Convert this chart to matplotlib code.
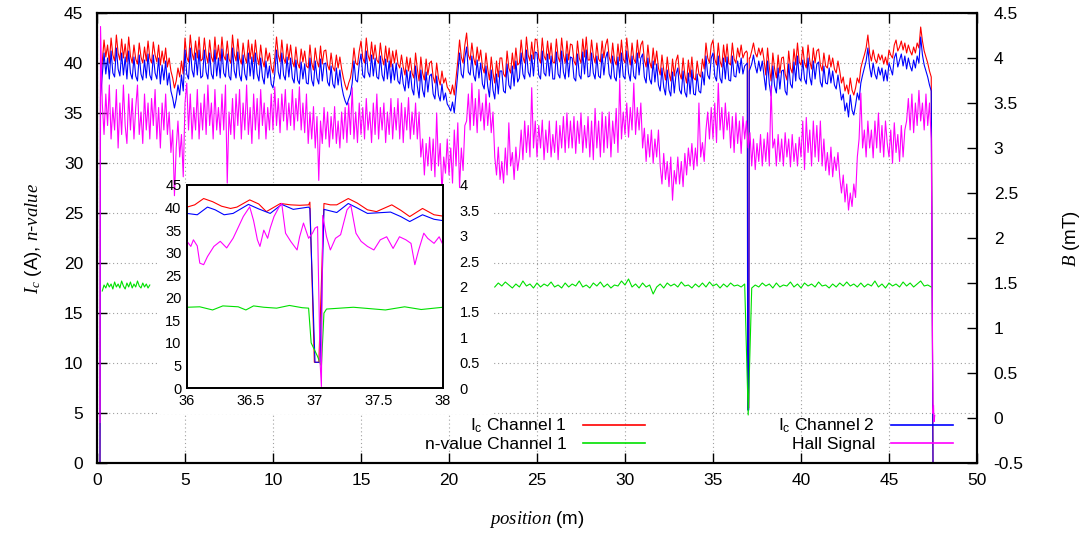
import numpy as np
import matplotlib
matplotlib.use('Agg')
import matplotlib.pyplot as plt
from matplotlib.patches import Rectangle
from matplotlib.lines import Line2D

plt.rcParams['font.family'] = ['Liberation Sans', 'DejaVu Sans']
plt.rcParams['mathtext.fontset'] = 'custom'
plt.rcParams['mathtext.rm'] = 'Liberation Sans'
plt.rcParams['mathtext.it'] = 'Liberation Serif:italic'
plt.rcParams['mathtext.bf'] = 'Liberation Sans:bold'

# ---------------- main data (position grid 0.2 m ... 47.4 m, step 0.1 m) -------------
ic_ch1 = [
    38.0, 40.2, 42.3, 40.6, 41.8, 40.0, 42.5, 40.8,
    40.2, 42.8, 41.0, 40.3, 42.4, 40.5, 41.9, 40.1, 42.6, 40.7,
    40.0, 41.8, 40.4, 39.9, 42.0, 40.6, 40.0, 41.6, 40.2, 42.2,
    40.5, 40.0, 42.1, 40.8, 40.1, 41.8, 39.8, 41.2, 40.0, 41.5,
    39.6, 40.5, 39.2, 38.5, 37.5, 38.2, 39.5, 38.6, 40.2, 38.9,
    42.5, 40.6, 40.1, 42.8, 41.0, 40.3, 42.2, 40.5, 42.6, 40.2,
    40.4, 42.5, 40.8, 40.0, 42.3, 40.6, 40.1, 42.6, 40.4, 41.8,
    40.2, 42.6, 40.7, 40.3, 42.2, 40.4, 40.0, 42.8, 40.9, 40.2,
    42.4, 40.5, 39.9, 42.0, 40.6, 40.0, 42.3, 40.4, 41.9, 40.1,
    42.3, 40.6, 39.8, 41.8, 40.3, 39.6, 41.5, 40.2, 41.0, 39.6,
    39.0, 40.5, 42.6, 40.8, 40.1, 42.3, 40.5, 40.0, 41.9, 40.3,
    41.8, 40.2, 39.6, 41.6, 40.0, 39.5, 41.4, 40.1, 41.2, 39.7,
    39.5, 41.8, 40.0, 39.3, 41.5, 40.2, 39.6, 41.7, 39.9, 41.2,
    41.3, 39.8, 39.3, 41.0, 39.6, 39.2, 40.8, 39.5, 40.6, 39.4,
    38.5, 37.8, 37.3, 38.0, 38.5, 39.6, 41.5, 40.0, 39.8, 41.2,
    42.2, 40.5, 40.0, 42.5, 40.8, 40.2, 42.1, 40.4, 41.8, 40.3,
    40.0, 42.0, 40.5, 39.8, 41.7, 40.1, 41.5, 39.6, 41.2, 40.0,
    41.3, 39.9, 39.5, 40.8, 39.6, 38.8, 40.6, 39.2, 40.5, 39.0,
    38.5, 41.0, 39.4, 38.2, 40.6, 39.0, 38.3, 40.4, 38.8, 40.0,
    40.2, 38.6, 38.0, 40.0, 38.5, 37.8, 39.2, 38.0, 38.5, 37.6,
    37.3, 36.9, 37.8, 36.8, 38.5, 40.2, 42.3, 40.6, 40.0, 41.8,
    43.0, 40.8, 40.3, 42.0, 40.5, 39.8, 41.6, 40.2, 41.3, 39.6,
    39.0, 41.0, 39.4, 38.3, 40.6, 39.0, 38.0, 40.2, 38.6, 40.5,
    40.5, 38.9, 38.6, 41.2, 39.5, 39.0, 41.0, 39.4, 41.5, 39.8,
    40.0, 42.3, 40.6, 40.0, 42.6, 40.8, 40.2, 42.1, 40.4, 42.4,
    42.3, 40.5, 40.0, 42.5, 40.7, 40.3, 42.2, 40.4, 42.0, 40.1,
    40.0, 42.4, 40.6, 40.1, 42.5, 40.8, 40.0, 42.2, 40.3, 41.9,
    41.8, 40.2, 39.8, 42.2, 40.5, 40.0, 42.4, 40.6, 42.6, 40.3,
    40.3, 42.3, 40.7, 40.0, 42.0, 40.4, 40.1, 42.2, 40.5, 41.8,
    42.4, 40.6, 40.0, 42.0, 40.3, 39.8, 41.9, 40.2, 42.3, 40.4,
    40.0, 42.5, 40.7, 39.8, 42.0, 40.4, 40.0, 42.3, 40.5, 41.8,
    42.2, 40.3, 39.6, 41.8, 40.1, 39.5, 41.5, 39.8, 41.2, 39.5,
    38.8, 40.8, 39.3, 38.3, 40.6, 39.0, 38.2, 40.4, 38.7, 40.2,
    40.8, 39.0, 38.4, 40.5, 38.8, 38.0, 40.3, 38.6, 40.6, 38.5,
    38.3, 40.2, 38.9, 38.6, 40.4, 39.4, 42.0, 40.5, 40.0, 41.8,
    42.3, 40.4, 39.8, 42.0, 40.2, 39.6, 41.8, 40.1, 41.9, 40.0,
    39.8, 42.0, 40.4, 40.0, 41.5, 40.6, 41.8, 40.5, 41.0, 41.2,
    5.5, 40.5, 41.2, 42.0, 41.0, 40.6, 41.5, 40.8, 41.5, 40.3,
    38.8, 41.5, 39.6, 38.2, 41.0, 39.4, 38.5, 40.8, 39.0, 40.5,
    40.6, 38.9, 38.3, 41.2, 39.5, 39.0, 41.4, 39.8, 42.0, 40.1,
    39.8, 41.6, 40.0, 39.5, 41.8, 40.2, 39.4, 41.5, 40.0, 41.2,
    41.4, 39.8, 39.2, 41.0, 39.7, 39.5, 40.8, 39.6, 40.5, 39.4,
    39.0, 40.2, 39.2, 38.0, 38.6, 37.2, 37.8, 36.9, 38.5, 37.3,
    36.8, 37.5, 38.5, 38.0, 39.5, 40.2, 40.8, 41.5, 42.8, 41.0,
    40.2, 41.3, 40.4, 40.0, 40.9, 40.3, 40.8, 39.9, 40.6, 39.8,
    41.3, 40.8, 40.5, 41.8, 42.3, 41.2, 41.6, 42.2, 41.3, 42.0,
    41.0, 41.8, 41.2, 40.8, 41.6, 41.0, 42.0, 41.5, 43.6, 42.2,
    41.2, 40.6, 40.0, 39.2, 38.6,
]

ic_ch2 = [
    36.6, 38.8, 41.0, 38.9, 40.5, 38.4, 41.2, 39.0,
    38.6, 41.5, 39.4, 38.7, 41.0, 38.8, 40.6, 38.4, 41.2, 39.0,
    38.4, 40.6, 38.7, 38.2, 40.8, 38.9, 38.3, 40.3, 38.5, 40.9,
    38.8, 38.3, 40.8, 39.0, 38.4, 40.5, 37.9, 39.8, 38.3, 40.2,
    37.8, 39.0, 37.2, 36.5, 35.5, 36.4, 37.8, 36.8, 38.8, 37.2,
    41.3, 38.9, 38.4, 41.5, 39.3, 38.6, 41.0, 38.8, 41.3, 38.5,
    38.7, 41.3, 39.1, 38.4, 41.0, 38.9, 38.4, 41.3, 38.7, 40.5,
    38.5, 41.4, 39.0, 38.6, 40.9, 38.7, 38.3, 41.5, 39.2, 38.5,
    41.1, 38.8, 38.2, 40.8, 38.9, 38.3, 41.0, 38.7, 40.6, 38.4,
    41.0, 38.9, 38.2, 40.5, 38.6, 37.9, 40.2, 38.5, 39.7, 37.9,
    37.5, 38.9, 41.3, 39.1, 38.4, 41.0, 38.8, 38.3, 40.6, 38.6,
    40.5, 38.5, 38.0, 40.3, 38.3, 37.9, 40.1, 38.4, 39.9, 38.0,
    37.9, 40.5, 38.3, 37.7, 40.2, 38.5, 37.9, 40.4, 38.2, 39.9,
    40.0, 38.1, 37.7, 39.7, 37.9, 37.5, 39.5, 37.8, 39.3, 37.7,
    36.8, 36.2, 35.8, 36.4, 36.9, 38.0, 40.2, 38.3, 38.1, 39.9,
    40.9, 38.8, 38.5, 41.2, 39.1, 38.6, 40.8, 38.7, 40.5, 38.6,
    38.4, 40.7, 38.8, 38.2, 40.4, 38.4, 40.2, 38.0, 39.9, 38.3,
    40.0, 38.2, 37.9, 39.5, 37.9, 37.2, 39.3, 37.5, 39.2, 37.4,
    36.8, 39.7, 37.7, 36.5, 39.3, 37.3, 36.6, 39.1, 37.1, 38.7,
    38.9, 36.9, 36.4, 38.7, 36.8, 36.2, 37.9, 36.3, 37.0, 35.9,
    35.6, 35.2, 36.1, 35.0, 37.0, 38.9, 41.0, 38.9, 38.5, 40.5,
    41.6, 39.1, 38.8, 40.7, 38.8, 38.2, 40.3, 38.5, 40.0, 37.9,
    37.4, 39.7, 37.7, 36.6, 39.3, 37.3, 36.4, 38.9, 36.9, 39.2,
    39.2, 37.2, 37.0, 39.9, 37.8, 37.4, 39.7, 37.7, 40.2, 38.1,
    38.5, 41.0, 38.9, 38.4, 41.3, 39.1, 38.6, 40.8, 38.7, 41.1,
    41.0, 38.8, 38.4, 41.2, 39.0, 38.7, 40.9, 38.7, 40.7, 38.4,
    38.4, 41.1, 38.9, 38.5, 41.2, 39.1, 38.4, 40.9, 38.6, 40.6,
    40.5, 38.5, 38.2, 40.9, 38.8, 38.4, 41.1, 38.9, 41.3, 38.6,
    38.7, 41.0, 39.0, 38.4, 40.7, 38.7, 38.5, 40.9, 38.8, 40.5,
    41.1, 38.9, 38.4, 40.7, 38.6, 38.2, 40.6, 38.5, 41.0, 38.7,
    38.4, 41.2, 39.0, 38.2, 40.7, 38.7, 38.4, 41.0, 38.8, 40.5,
    40.9, 38.6, 38.0, 40.5, 38.4, 37.9, 40.2, 38.1, 39.9, 37.8,
    37.2, 39.5, 37.6, 36.8, 39.3, 37.3, 36.7, 39.1, 37.0, 38.9,
    39.5, 37.3, 36.9, 39.2, 37.1, 36.6, 39.0, 36.9, 39.3, 36.9,
    36.8, 38.9, 37.2, 37.0, 39.1, 37.8, 40.7, 38.8, 38.4, 40.5,
    41.0, 38.7, 38.2, 40.7, 38.5, 38.0, 40.5, 38.4, 40.6, 38.3,
    38.2, 40.7, 38.7, 38.6, 40.2, 39.0, 40.5, 38.9, 39.7, 39.9,
    5.3, 39.4, 39.9, 40.8, 39.7, 39.0, 40.2, 39.2, 40.2, 38.7,
    37.3, 40.2, 37.9, 36.7, 39.7, 37.7, 37.0, 39.5, 37.4, 39.2,
    39.3, 37.2, 36.8, 39.9, 37.9, 37.5, 40.1, 38.2, 40.7, 38.5,
    38.2, 40.3, 38.4, 37.9, 40.5, 38.6, 37.8, 40.2, 38.4, 39.9,
    40.1, 38.1, 37.6, 39.7, 38.0, 37.9, 39.5, 38.0, 39.2, 37.8,
    37.4, 38.8, 37.6, 36.3, 36.9, 35.2, 36.0, 34.6, 36.8, 35.3,
    34.8, 35.8, 37.0, 36.3, 38.0, 38.8, 39.5, 40.2, 41.5, 39.6,
    38.6, 40.0, 38.9, 38.4, 39.6, 38.8, 39.5, 38.2, 39.3, 38.2,
    40.0, 39.4, 38.8, 40.5, 41.0, 39.6, 40.3, 40.9, 39.7, 40.7,
    39.4, 40.5, 39.7, 39.2, 40.3, 39.5, 40.7, 40.0, 42.6, 40.8,
    39.8, 39.2, 38.6, 37.8, 37.2,
]

hall_mT = [
    4.35, 3.5, 3.15, 3.6, 3.25, 3.7, 3.1, 3.45,
    3.2, 3.65, 3.0, 3.5, 3.15, 3.7, 3.25, 3.05, 3.6, 3.2,
    3.55, 3.1, 3.45, 3.7, 3.15, 3.4, 3.05, 3.6, 3.2, 3.5,
    3.1, 3.55, 3.25, 3.65, 3.1, 3.45, 3.0, 3.5, 3.2, 3.6,
    3.15, 3.4, 2.95, 3.2, 2.47, 3.0, 3.3, 2.9, 3.15, 2.68,
    3.5, 3.72, 3.2, 3.6, 3.1, 3.45, 3.2, 3.65, 3.1, 3.5,
    3.2, 3.6, 3.15, 3.7, 3.25, 3.5, 3.1, 3.65, 3.2, 3.45,
    3.15, 3.6, 3.2, 3.7, 2.61, 3.4, 3.15, 3.55, 3.1, 3.6,
    3.25, 3.65, 3.1, 3.5, 3.2, 3.7, 3.15, 3.45, 3.05, 3.6,
    3.2, 3.55, 3.1, 3.65, 3.25, 3.5, 3.1, 3.45, 3.2, 3.6,
    3.2, 3.68, 3.25, 3.55, 3.17, 3.6, 3.3, 3.65, 3.2, 3.5,
    3.25, 3.65, 3.2, 3.55, 3.3, 3.68, 3.2, 3.5, 3.17, 3.6,
    3.05, 3.4, 3.1, 3.46, 3.0, 3.35, 2.64, 3.3, 3.05, 3.45,
    3.1, 3.4, 3.01, 3.35, 3.1, 3.46, 3.05, 3.3, 3.0, 3.4,
    3.1, 3.45, 3.06, 3.5, 3.15, 3.67, 3.1, 3.4, 3.06, 3.5,
    3.15, 3.45, 3.1, 3.55, 3.2, 3.4, 3.06, 3.5, 3.15, 3.6,
    3.1, 3.45, 3.2, 3.5, 3.06, 3.4, 3.15, 3.55, 3.1, 3.45,
    3.2, 3.55, 3.1, 3.5, 3.06, 3.45, 3.2, 3.56, 3.1, 3.4,
    3.15, 3.5, 3.1, 3.4, 2.9, 3.1, 2.7, 3.05, 2.8, 3.12,
    2.75, 3.1, 2.68, 3.39, 2.8, 3.05, 2.5, 2.9, 2.72, 3.1,
    2.7, 3.0, 2.61, 3.2, 2.8, 3.28, 2.56, 3.0, 2.75, 3.25,
    3.3, 3.6, 3.2, 3.72, 3.25, 3.55, 3.17, 3.65, 3.3, 3.5,
    3.2, 3.6, 3.25, 3.5, 3.17, 3.4, 2.9, 2.7, 3.01, 2.65,
    2.85, 2.61, 3.0, 2.7, 3.28, 2.8, 2.95, 2.65, 3.01, 2.75,
    2.9, 3.2, 2.87, 3.3, 2.95, 3.25, 2.9, 3.67, 3.0, 3.3,
    2.9, 3.25, 3.0, 3.31, 2.87, 3.2, 2.95, 3.3, 2.9, 3.15,
    2.95, 3.3, 2.87, 3.25, 3.0, 3.35, 2.95, 3.39, 3.0, 3.3,
    3.0, 3.35, 2.94, 3.3, 3.05, 3.39, 2.95, 3.25, 3.0, 3.35,
    2.9, 3.3, 2.87, 3.44, 3.0, 3.3, 2.9, 3.4, 2.95, 3.35,
    3.0, 3.4, 2.9, 3.3, 3.05, 3.44, 2.95, 3.76, 3.1, 3.4,
    3.15, 3.5, 3.12, 3.45, 3.2, 3.72, 3.15, 3.45, 3.2, 3.5,
    3.0, 3.22, 2.85, 3.15, 2.9, 3.2, 2.83, 3.1, 2.9, 3.2,
    2.8, 2.6, 2.94, 2.65, 2.85, 2.57, 2.9, 2.42, 2.75, 2.6,
    2.9, 2.6, 2.85, 2.57, 2.94, 2.7, 3.0, 2.8, 3.05, 2.76,
    3.0, 2.8, 3.5, 2.9, 3.06, 2.85, 3.2, 3.4, 3.1, 3.45,
    3.1, 3.5, 3.06, 3.72, 3.2, 3.45, 3.1, 3.5, 3.2, 3.4,
    3.0, 3.35, 2.95, 3.39, 3.05, 3.3, 2.94, 3.35, 3.1, 3.3,
    3.0, 3.17, 2.8, 3.1, 2.76, 3.05, 2.85, 3.15, 2.8, 3.1,
    2.85, 3.17, 2.8, 3.69, 3.0, 3.1, 2.8, 3.15, 2.85, 3.1,
    2.8, 3.17, 2.9, 3.1, 2.79, 3.15, 2.85, 3.05, 2.8, 3.12,
    2.9, 3.3, 2.76, 3.34, 2.95, 3.2, 2.8, 3.3, 2.9, 3.25,
    2.85, 3.3, 2.8, 3.1, 2.75, 2.95, 2.7, 3.01, 2.68, 2.9,
    2.75, 2.95, 2.68, 2.5, 2.7, 2.4, 2.6, 2.31, 2.5, 2.35,
    2.6, 2.45, 2.9, 3.1, 3.61, 3.0, 3.2, 2.9, 3.3, 3.0,
    3.2, 2.89, 3.3, 3.0, 3.39, 2.95, 3.25, 2.9, 3.3, 3.05,
    2.9, 3.2, 2.83, 3.28, 2.95, 3.15, 2.85, 3.25, 2.9, 3.2,
    3.3, 3.55, 3.2, 3.6, 3.17, 3.5, 3.25, 3.64, 3.3, 3.5,
    3.2, 3.6, 3.25, 3.5, 3.1,
]

# extra points: tape start, defect at 37 m, tape end
edge_pos = [0.17, 36.95, 36.97, 37.03, 37.06, 47.5]
edge_ic1 = [0.0, 41.0, 5.5, 5.5, 40.5, 0.0]
edge_ic2 = [0.0, 40.0, 5.3, 5.3, 39.2, 0.0]
hall_edge_pos = [0.17, 47.5, 47.53, 47.56, 47.6]
hall_edge_val = [-0.05, 0.05, 0.14, -0.04, 0.03]

# n-value, first segment (0.3 ... 3.0 m, step 0.1 m)
nval_a = [17.2, 17.8, 17.5, 18.0, 17.6, 17.9, 17.4, 18.1, 17.6, 17.9,
          17.5, 18.2, 17.7, 17.4, 18.0, 17.6, 18.1, 17.5, 17.9, 17.6,
          18.2, 17.7, 17.5, 18.0, 17.6, 17.9, 17.5, 17.8]
# n-value, second segment (22.6 ... 47.4 m, step 0.2 m)
nval_b = [
    17.6, 18.0, 17.7, 18.1, 17.8,
    17.5, 17.9, 17.6, 18.2, 17.7,
    17.9, 17.5, 18.0, 17.6, 17.9,
    17.7, 18.1, 17.6, 17.8, 17.5,
    18.0, 17.6, 17.9, 17.7, 18.2,
    17.6, 17.8, 17.5, 18.0, 17.7,
    18.1, 17.6, 17.9, 17.5, 17.8,
    17.7, 18.2, 17.8, 18.4, 17.6,
    17.9, 17.5, 18.0, 17.6, 17.8,
    16.9, 17.6, 17.9, 17.5, 18.0,
    17.7, 17.9, 17.6, 18.1, 17.7,
    17.8, 17.5, 17.9, 17.6, 18.0,
    17.6, 18.1, 17.7, 17.9, 17.5,
    17.9, 17.6, 18.0, 17.7, 17.8,
    17.6, 17.9, 4.8, 17.5, 17.8,
    17.6, 18.0, 17.7, 17.9, 17.5,
    18.0, 17.6, 17.8, 17.7, 18.1,
    17.6, 17.9, 17.5, 18.0, 17.7,
    17.9, 17.6, 18.1, 17.7, 17.8,
    17.5, 17.9, 17.6, 18.0, 17.7,
    18.1, 17.7, 17.9, 17.6, 18.0,
    17.6, 17.9, 17.7, 18.2, 17.6,
    17.9, 17.5, 18.0, 17.7, 17.9,
    17.6, 18.1, 17.7, 18.0, 17.6,
    17.9, 18.2, 17.7, 17.8, 17.6,
]

# ---------------- inset data (36 ... 38 m) -------------
in_ic1_pos = [36.0, 36.06, 36.13, 36.2, 36.27, 36.34, 36.39, 36.49, 36.56, 36.62,
              36.73, 36.81, 36.88, 36.95, 36.96, 36.995, 37.03, 37.07, 37.12, 37.17,
              37.26, 37.33, 37.41, 37.48, 37.6, 37.67, 37.74, 37.84, 37.93, 38.0]
in_ic1 = [40.1, 40.6, 42.0, 41.3, 40.3, 39.8, 40.1, 41.7, 40.8, 39.1,
          40.9, 40.6, 40.5, 40.6, 41.2, 5.7, 5.7, 40.9, 40.6, 40.6,
          42.0, 41.0, 39.5, 39.1, 40.6, 39.4, 38.0, 39.8, 38.4, 38.1]
in_ic2_pos = [36.0, 36.08, 36.16, 36.22, 36.29, 36.36, 36.48, 36.56, 36.65, 36.74,
              36.83, 36.95, 36.96, 37.0, 37.04, 37.07, 37.17, 37.26, 37.33, 37.41,
              37.59, 37.67, 37.74, 37.84, 37.93, 38.0]
in_ic2 = [38.7, 38.4, 40.1, 39.5, 38.4, 38.7, 40.7, 39.7, 38.7, 40.7,
          39.6, 40.1, 39.8, 5.7, 5.7, 39.6, 38.9, 40.9, 39.9, 38.7,
          39.0, 38.0, 36.9, 38.4, 37.4, 37.1]
in_hall_pos = [36.0, 36.03, 36.05, 36.08, 36.1, 36.13, 36.16, 36.21, 36.26, 36.31,
               36.36, 36.39, 36.44, 36.49, 36.52, 36.55, 36.57, 36.6, 36.63, 36.65,
               36.68, 36.72, 36.74, 36.77, 36.81, 36.86, 36.88, 36.91, 36.95, 36.98,
               37.0, 37.02, 37.04, 37.05, 37.06, 37.09, 37.12, 37.16, 37.2, 37.25,
               37.28, 37.32, 37.36, 37.41, 37.46, 37.51, 37.56, 37.61, 37.66, 37.71,
               37.75, 37.78, 37.81, 37.85, 37.88, 37.93, 37.97, 38.0]
in_hall = [2.89, 2.79, 2.92, 2.8, 2.46, 2.43, 2.59, 2.79, 2.89, 2.76,
           2.95, 3.11, 3.38, 3.57, 3.3, 2.92, 2.79, 3.11, 2.95, 3.15,
           3.38, 3.57, 3.64, 3.05, 2.89, 2.72, 2.98, 3.25, 2.95, 3.05,
           3.15, 3.18, 0.49, 0.03, 3.4, 2.98, 2.72, 2.95, 3.02, 3.51,
           3.6, 3.05, 2.89, 2.79, 2.72, 2.92, 2.98, 2.75, 2.98, 2.92,
           2.85, 2.43, 2.72, 3.05, 2.95, 2.85, 2.98, 2.82]
in_nval_pos = [36.0, 36.1, 36.2, 36.28, 36.4, 36.46, 36.52, 36.6, 36.7, 36.8,
               36.9, 36.95, 36.97, 37.02, 37.05, 37.07, 37.09, 37.3, 37.55, 37.7,
               37.83, 38.0]
in_nval = [17.9, 18.0, 17.3, 18.2, 18.0, 17.3, 18.2, 17.9, 17.7, 18.3,
           17.8, 17.7, 10.0, 7.0, 4.8, 16.6, 17.5, 17.9, 17.3, 18.0,
           17.4, 17.9]

x_ticks = [0, 5, 10, 15, 20, 25, 30, 35, 40, 45, 50]
y_ticks = [0, 5, 10, 15, 20, 25, 30, 35, 40, 45]
y2_ticks = [-0.5, 0, 0.5, 1, 1.5, 2, 2.5, 3, 3.5, 4, 4.5]
y2_labels = ['-0.5', '0', '0.5', '1', '1.5', '2', '2.5', '3', '3.5', '4', '4.5']
in_x_ticks = [36, 36.5, 37, 37.5, 38]
in_x_labels = ['36', '36.5', '37', '37.5', '38']
in_y2_ticks = [0, 0.5, 1, 1.5, 2, 2.5, 3, 3.5, 4]
in_y2_labels = ['0', '0.5', '1', '1.5', '2', '2.5', '3', '3.5', '4']

labels = ['I$_\\mathrm{c}$ Channel 1', 'n-value Channel 1',
          'I$_\\mathrm{c}$ Channel 2', 'Hall Signal']
colors = ['#ff0000', '#00e000', '#0000ff', '#ff00ff']

# ---------------- assemble series -------------
grid_pos = np.round(0.2 + 0.1 * np.arange(len(ic_ch1)), 2)
assert len(ic_ch1) == len(ic_ch2) == len(hall_mT) == 473, (len(ic_ch1), len(ic_ch2), len(hall_mT))


def merge(xa, ya, xb, yb):
    x = np.concatenate([np.asarray(xa, float), np.asarray(xb, float)])
    y = np.concatenate([np.asarray(ya, float), np.asarray(yb, float)])
    o = np.argsort(x, kind='stable')
    return x[o], y[o]


x1, y1 = merge(grid_pos, ic_ch1, edge_pos, edge_ic1)
x2, y2 = merge(grid_pos, ic_ch2, edge_pos, edge_ic2)
xh, yh = merge(grid_pos, hall_mT, hall_edge_pos, hall_edge_val)
xa = np.round(0.3 + 0.1 * np.arange(len(nval_a)), 2)
xb = np.round(22.6 + 0.2 * np.arange(len(nval_b)), 2)
xn = np.concatenate([xa, [np.nan], xb])
yn = np.concatenate([nval_a, [np.nan], nval_b])

# ---------------- figure -------------
W, H = 1083, 536
fig = plt.figure(figsize=(W / 100, H / 100), dpi=100)


def fx(px):
    return px / W


def fy(py):
    return 1 - py / H


L, R, T, B = 97, 977, 13, 463
ax = fig.add_axes([fx(L), fy(B), fx(R - L), (B - T) / H])
ax2 = ax.twinx()

lw = 0.8
ax.set_axisbelow(True)
ax.grid(True, color='#a0a0a0', linestyle=(0, (1, 2.5)), linewidth=0.8)
ax.add_patch(Rectangle((fx(158), fy(414)), fx(493 - 158), (414 - 183) / H,
                       transform=fig.transFigure, facecolor='white',
                       edgecolor='none', zorder=1))
ax.plot(x1, y1, color=colors[0], lw=lw, zorder=2)
ax.plot(x2, y2, color=colors[2], lw=lw, zorder=2)
ax.plot(xn, yn, color=colors[1], lw=lw, zorder=2)
ax2.plot(xh, yh, color=colors[3], lw=lw, zorder=2)

ax.set_xlim(0, 50)
ax.set_ylim(0, 45)
ax2.set_ylim(-0.5, 4.5)
ax.set_xticks(x_ticks)
ax.set_xticklabels([str(t) for t in x_ticks])
ax.set_yticks(y_ticks)
ax.set_yticklabels([str(t) for t in y_ticks])
ax2.set_yticks(y2_ticks)
ax2.set_yticklabels(y2_labels)

fs = 12.5
ax.tick_params(axis='x', direction='in', length=7, width=1, top=True,
               labelsize=fs, pad=7)
ax.tick_params(axis='y', direction='in', length=7, width=1, right=False,
               labelsize=fs, pad=10)
ax2.tick_params(axis='y', direction='in', length=7, width=1, labelsize=fs, pad=12)
for a in (ax, ax2):
    for s in a.spines.values():
        s.set_linewidth(1.5)

ax.set_xlabel(r'$position$ (m)', fontsize=13.5, labelpad=15)
ax.set_ylabel(r'$I_c$ (A), $n$-$value$', fontsize=13.5)
ax.yaxis.set_label_coords(-0.06, 0.5)
ax2.set_ylabel(r'$B$ (mT)', fontsize=13.5)
ax2.yaxis.set_label_coords(1.095, 0.5)

# legend (gnuplot style: text then sample)
handles = [Line2D([], [], color=c, lw=1.2) for c in colors]
leg1 = ax.legend(handles[:2], labels[:2], loc='lower right',
                 bbox_to_anchor=(fx(645), fy(452)), bbox_transform=fig.transFigure,
                 frameon=False, markerfirst=False, fontsize=fs, handlelength=3.6,
                 handletextpad=0.9, labelspacing=0.1, borderpad=0, borderaxespad=0)
ax.add_artist(leg1)
leg2 = ax.legend([handles[2], handles[3]], [labels[2], labels[3]], loc='lower right',
                 bbox_to_anchor=(fx(953), fy(452)), bbox_transform=fig.transFigure,
                 frameon=False, markerfirst=False, fontsize=fs, handlelength=3.6,
                 handletextpad=0.9, labelspacing=0.1, borderpad=0, borderaxespad=0)
leg1.set_zorder(5)
leg2.set_zorder(5)

# ---------------- inset -------------
iL, iR, iT, iB = 187, 443, 185, 388
axi = fig.add_axes([fx(iL), fy(iB), fx(iR - iL), (iB - iT) / H])
axi2 = axi.twinx()
axi.plot(in_ic1_pos, in_ic1, color=colors[0], lw=lw)
axi.plot(in_ic2_pos, in_ic2, color=colors[2], lw=lw)
axi.plot(in_nval_pos, in_nval, color=colors[1], lw=lw)
axi2.plot(in_hall_pos, in_hall, color=colors[3], lw=lw)
axi.set_xlim(36, 38)
axi.set_ylim(0, 45)
axi2.set_ylim(0, 4.0)
axi.set_xticks(in_x_ticks)
axi.set_xticklabels(in_x_labels)
axi.set_yticks(y_ticks)
axi.set_yticklabels([str(t) for t in y_ticks])
axi2.set_yticks(in_y2_ticks)
axi2.set_yticklabels(in_y2_labels)
fsi = 10.5
axi.tick_params(axis='x', length=0, labelsize=fsi, pad=4)
axi.tick_params(axis='y', length=0, labelsize=fsi, pad=4)
axi2.tick_params(axis='y', length=0, labelsize=fsi, pad=12)
for a in (axi, axi2):
    for s in a.spines.values():
        s.set_linewidth(1.3)

fig.savefig('out.png', dpi=100)
